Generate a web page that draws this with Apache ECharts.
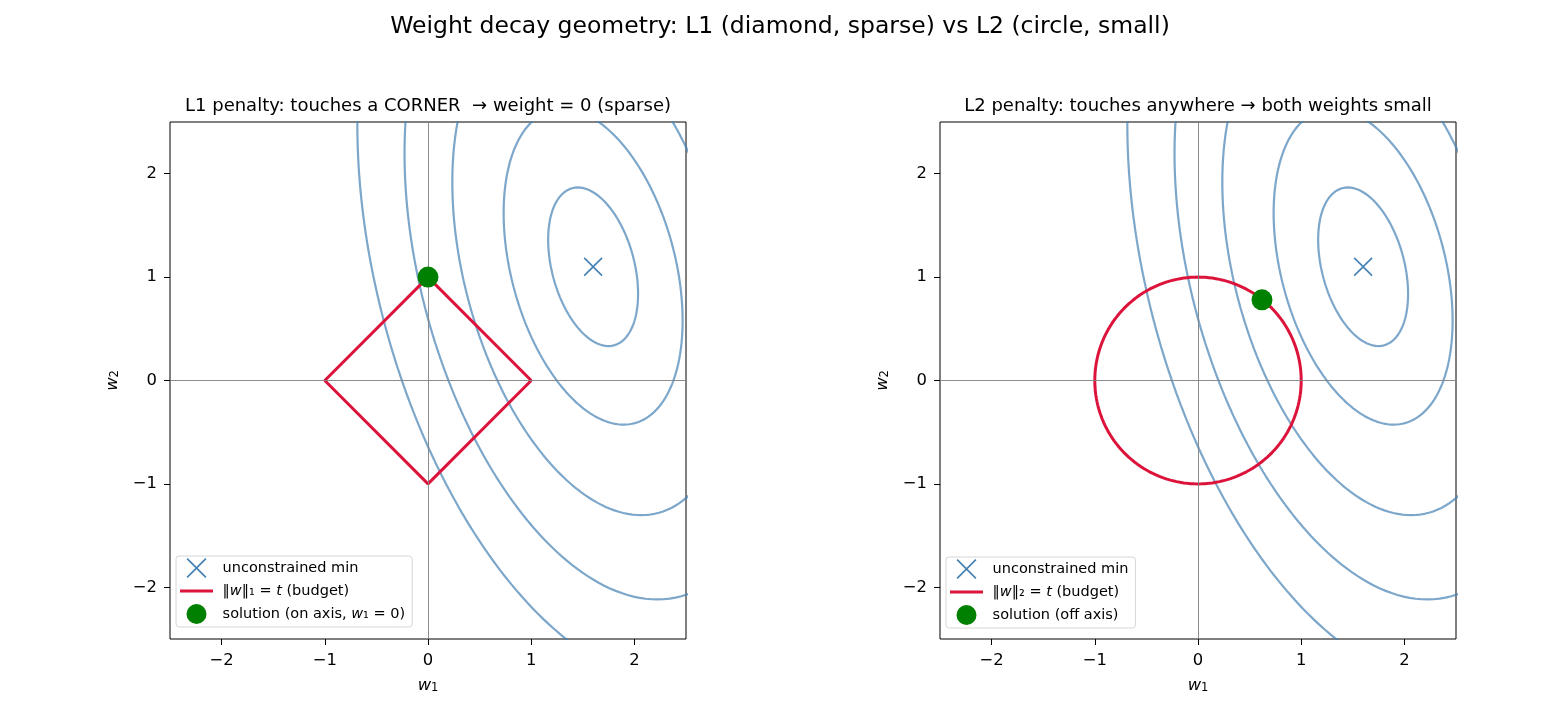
<!DOCTYPE html>
<html>
<head>
<meta charset="utf-8">
<script src="https://cdn.jsdelivr.net/npm/echarts@6/dist/echarts.min.js"></script>
<style>
html, body { margin: 0; padding: 0; background: #fff; }
#chart { width: 1560px; height: 715px; }
</style>
</head>
<body>
<div id="chart"></div>
<script>
// quadratic loss: a*dx^2 + 2b*dx*dy + c*dy^2 = level
var lossCenter = [1.6, 1.1];
var lossHessian = [3.1, 0.6, 1.0];
var contourLevels = [0.52, 2.06, 5.1, 9.15, 14.3];
var budget = 1;
var diamondVertices = [[1, 0], [0, 1], [-1, 0], [0, -1], [1, 0]];
var l1Solution = [0, 1];
var l2Solution = [0.62, 0.78];
var tickValues = [-2, -1, 0, 1, 2];
var axisRange = [-2.5, 2.5];
var refLines = [0];
var panelTitles = [
  'L1 penalty: touches a CORNER  \u2192 weight = 0 (sparse)',
  'L2 penalty: touches anywhere \u2192 both weights small'
];
var budgetNames = ['\u2016w\u2016\u2081 = t (budget)', '\u2016w\u2016\u2082 = t (budget)'];
var solutionNames = ['solution (on axis, w\u2081 = 0)', 'solution (off axis)'];

var richNames = {
  '\u2016w\u2016\u2081 = t (budget)': '\u2016{i|w}\u2016\u2081 = {i|t} (budget)',
  '\u2016w\u2016\u2082 = t (budget)': '\u2016{i|w}\u2016\u2082 = {i|t} (budget)',
  'solution (on axis, w\u2081 = 0)': 'solution (on axis, {i|w}\u2081 = 0)'
};

var FONT = 'DejaVu Sans';
var STEEL = '#4682b4';
var CRIMSON = '#dc143c';
var xMark = 'path://M6,0L50,44L94,0L100,6L56,50L100,94L94,100L50,56L6,100L0,94L44,50L0,6Z';
var barIcon = 'path://M0,0L100,0L100,9L0,9Z';

function ellipsePoints (level) {
  var a = lossHessian[0], b = lossHessian[1], c = lossHessian[2];
  var pts = [];
  for (var i = 0; i <= 360; i++) {
    var th = i / 360 * Math.PI * 2;
    var ux = Math.cos(th), uy = Math.sin(th);
    var r = Math.sqrt(level / (a * ux * ux + 2 * b * ux * uy + c * uy * uy));
    pts.push([lossCenter[0] + r * ux, lossCenter[1] + r * uy]);
  }
  return pts;
}

function circlePoints (t) {
  var pts = [];
  for (var i = 0; i <= 360; i++) {
    var th = i / 360 * Math.PI * 2;
    pts.push([t * Math.cos(th), t * Math.sin(th)]);
  }
  return pts;
}

var minus = function (v) { return String(v).replace('-', '\u2212'); };

var gridLefts = [170, 940];
var grids = [], xAxes = [], yAxes = [], series = [], titles = [], legends = [];

titles.push({
  text: 'Weight decay geometry: L1 (diamond, sparse) vs L2 (circle, small)',
  left: 775, top: 10, textAlign: 'center',
  textStyle: { fontFamily: FONT, fontSize: 23.5, fontWeight: 'normal', color: '#000' }
});

for (var p = 0; p < 2; p++) {
  grids.push({ left: gridLefts[p], top: 122, width: 516, height: 517, show: true, borderColor: '#000', borderWidth: 1 });
  titles.push({
    text: panelTitles[p], left: gridLefts[p] + 253, top: 92, textAlign: 'center',
    textStyle: { fontFamily: FONT, fontSize: 18, fontWeight: 'normal', color: '#000' }
  });
  var axisCommon = {
    gridIndex: p, type: 'value', min: axisRange[0], max: axisRange[1],
    axisLine: { show: false, onZero: false },
    splitLine: { show: false },
    axisTick: { show: true, customValues: tickValues, length: 6, lineStyle: { color: '#000', width: 1 } },
    axisLabel: { customValues: tickValues, formatter: minus, color: '#000', fontFamily: FONT, fontSize: 16.4, margin: 14 },
    nameLocation: 'middle',
    nameTextStyle: {
      fontFamily: FONT, fontSize: 16.4, color: '#000',
      rich: {
        i: { fontFamily: FONT, fontSize: 16.4, fontStyle: 'italic', color: '#000' },
        s: { fontFamily: FONT, fontSize: 11.5, color: '#000', verticalAlign: 'bottom', lineHeight: 13 }
      }
    }
  };
  xAxes.push(Object.assign({}, axisCommon, { name: '{i|w}{s|1}', nameGap: 39 }));
  yAxes.push(Object.assign({}, axisCommon, { name: '{i|w}{s|2}', nameGap: 49, nameRotate: 90,
    axisLabel: Object.assign({}, axisCommon.axisLabel, { margin: 13 }) }));

  contourLevels.forEach(function (lv, k) {
    var s = {
      type: 'line', xAxisIndex: p, yAxisIndex: p, data: ellipsePoints(lv),
      symbol: 'none', smooth: false, clip: true, silent: true, z: 2,
      lineStyle: { color: STEEL, opacity: 0.7, width: 2.2 }
    };
    if (k === 0) {
      s.markLine = {
        silent: true, symbol: 'none', label: { show: false },
        lineStyle: { color: '#808080', width: 0.9, type: 'solid' },
        data: refLines.map(function (v) { return { xAxis: v }; }).concat(refLines.map(function (v) { return { yAxis: v }; }))
      };
    }
    series.push(s);
  });

  series.push({
    name: budgetNames[p], type: 'line', xAxisIndex: p, yAxisIndex: p,
    data: p === 0 ? diamondVertices : circlePoints(budget),
    symbol: 'none', z: 3, color: CRIMSON,
    lineStyle: { color: CRIMSON, width: 3 }
  });
  series.push({
    name: 'unconstrained min', type: 'scatter', xAxisIndex: p, yAxisIndex: p,
    data: [lossCenter], symbol: xMark, symbolSize: 19, z: 4,
    itemStyle: { color: STEEL, opacity: 1 }
  });
  series.push({
    name: solutionNames[p], type: 'scatter', xAxisIndex: p, yAxisIndex: p,
    data: [p === 0 ? l1Solution : l2Solution], symbol: 'circle', symbolSize: 21, z: 5,
    itemStyle: { color: '#008000', opacity: 1 }
  });

  legends.push({
    orient: 'vertical', left: gridLefts[p] + 6, top: p === 0 ? 556 : 557,
    data: [
      { name: 'unconstrained min' },
      { name: budgetNames[p], icon: barIcon, itemStyle: { color: CRIMSON } },
      { name: solutionNames[p] }
    ],
    itemWidth: 33, itemHeight: 20, itemGap: 5.5,
    padding: [2, 7, 3, 4],
    backgroundColor: 'rgba(255,255,255,0.8)', borderColor: '#d6d6d6', borderWidth: 1, borderRadius: 3,
    selectedMode: false,
    formatter: function (name) { return ' ' + (richNames[name] || name); },
    textStyle: {
      fontFamily: FONT, fontSize: 14.5, color: '#000',
      rich: { i: { fontFamily: FONT, fontSize: 14.5, fontStyle: 'italic', color: '#000' } }
    }
  });
}

var chart = echarts.init(document.getElementById('chart'));
chart.setOption({
  animation: false,
  backgroundColor: '#fff',
  title: titles,
  legend: legends,
  grid: grids,
  xAxis: xAxes,
  yAxis: yAxes,
  series: series
});
</script>
</body>
</html>
